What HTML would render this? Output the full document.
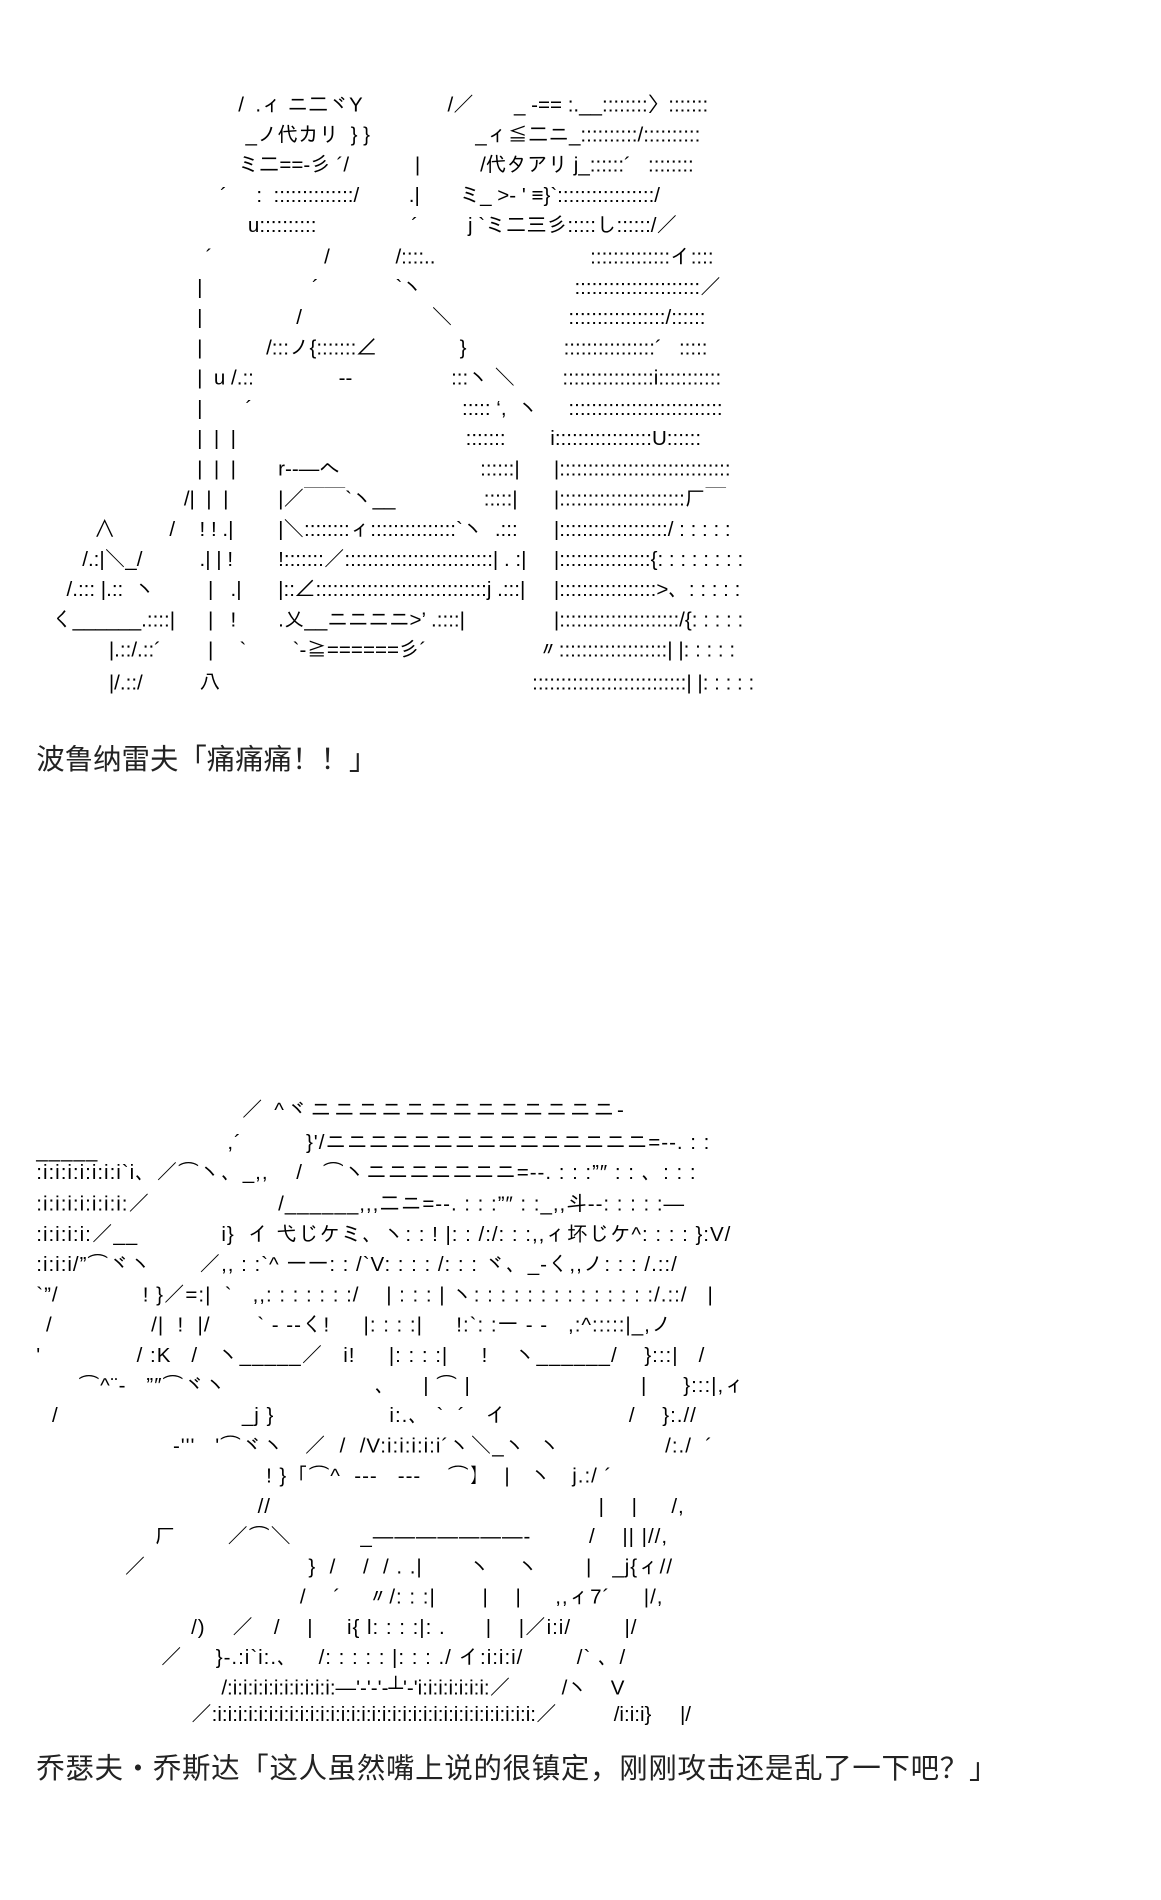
<!DOCTYPE html>
<html><head><meta charset="utf-8">
<style>
html,body{margin:0;padding:0;background:#fff;}
body{width:1161px;height:1899px;overflow:hidden;position:relative;}
#c{position:absolute;left:0;top:0;width:960px;height:1571px;transform:scale(1.209375);transform-origin:0 0;}
.t{position:absolute;white-space:pre;font-family:"Liberation Sans","IPAGothic","Noto Sans CJK JP",sans-serif;font-size:17px;line-height:24px;color:#000;}
.b .t{letter-spacing:0.8px;}
.b .t.z{letter-spacing:0;}
.cap{position:absolute;white-space:pre;font-family:"Liberation Sans","Noto Sans CJK SC",sans-serif;font-size:23.5px;line-height:28px;color:#222;}
</style></head><body><div id="c">
<!-- top art -->
<div class="t" style="left:197px;top:75px">/  .ィ ニ二ヾY</div>
<div class="t" style="left:370px;top:75px">/／</div>
<div class="t" style="left:425px;top:75px">_ -== :.__::::::::〉:::::::</div>
<div class="t" style="left:203px;top:100px">_ノ代カリ  } }</div>
<div class="t" style="left:393px;top:100px">_ィ≦二ニ_::::::::::/::::::::::</div>
<div class="t" style="left:197px;top:125px">ミ二==‐彡 ´/</div>
<div class="t" style="left:343px;top:125px">|</div>
<div class="t" style="left:397px;top:125px">/代タアリ j_::::::´   ::::::::</div>
<div class="t" style="left:182px;top:150px">´</div>
<div class="t" style="left:212px;top:150px">:  ::::::::::::::/</div>
<div class="t" style="left:338px;top:150px">.|</div>
<div class="t" style="left:380px;top:150px">ミ_ &gt;‐ ' ≡}`:::::::::::::::::/</div>
<div class="t" style="left:205px;top:175px">u::::::::::</div>
<div class="t" style="left:340px;top:175px">´</div>
<div class="t" style="left:387px;top:175px">j `ミ二三彡:::::し::::::/／</div>
<div class="t" style="left:170px;top:201px">´</div>
<div class="t" style="left:268px;top:201px">/</div>
<div class="t" style="left:327px;top:201px">/::::..</div>
<div class="t" style="left:488px;top:201px">::::::::::::::イ::::</div>
<div class="t" style="left:163px;top:226px">|</div>
<div class="t" style="left:258px;top:226px">´</div>
<div class="t" style="left:327px;top:226px">`ヽ</div>
<div class="t" style="left:475px;top:226px">::::::::::::::::::::::／</div>
<div class="t" style="left:163px;top:251px">|</div>
<div class="t" style="left:245px;top:251px">/</div>
<div class="t" style="left:357px;top:251px">＼</div>
<div class="t" style="left:470px;top:251px">:::::::::::::::::/::::::</div>
<div class="t" style="left:163px;top:276px">|</div>
<div class="t" style="left:220px;top:276px">/:::ノ{:::::::∠</div>
<div class="t" style="left:380px;top:276px">}</div>
<div class="t" style="left:466px;top:276px">::::::::::::::::´   :::::</div>
<div class="t" style="left:163px;top:301px">|  u /.::</div>
<div class="t" style="left:280px;top:301px">‐‐</div>
<div class="t" style="left:373px;top:301px">:::ヽ ＼</div>
<div class="t" style="left:465px;top:301px">::::::::::::::::i:::::::::::</div>
<div class="t" style="left:163px;top:326px">|</div>
<div class="t" style="left:203px;top:326px">´</div>
<div class="t" style="left:382px;top:326px">::::: ‘,  ヽ</div>
<div class="t" style="left:470px;top:326px">:::::::::::::::::::::::::::</div>
<div class="t" style="left:163px;top:351px">|  |  |</div>
<div class="t" style="left:385px;top:351px">:::::::</div>
<div class="t" style="left:455px;top:351px">i:::::::::::::::::U::::::</div>
<div class="t" style="left:163px;top:376px">|  |  |</div>
<div class="t" style="left:230px;top:376px">r‐‐―へ</div>
<div class="t" style="left:397px;top:376px">::::::|</div>
<div class="t" style="left:458px;top:376px">|::::::::::::::::::::::::::::::</div>
<div class="t" style="left:152px;top:401px">/|  |  |</div>
<div class="t" style="left:230px;top:401px">|／￣￣`ヽ__</div>
<div class="t" style="left:400px;top:401px">:::::|</div>
<div class="t" style="left:458px;top:401px">|::::::::::::::::::::::厂￣</div>
<div class="t" style="left:78px;top:426px">∧</div>
<div class="t" style="left:140px;top:426px">/</div>
<div class="t" style="left:165px;top:426px">! ! .|</div>
<div class="t" style="left:230px;top:426px">|＼::::::::ィ:::::::::::::::`ヽ  .:::</div>
<div class="t" style="left:458px;top:426px">|:::::::::::::::::::/ : : : : :</div>
<div class="t" style="left:68px;top:451px">/.:|＼_/</div>
<div class="t" style="left:165px;top:451px">.| | !</div>
<div class="t" style="left:230px;top:451px">!:::::::／::::::::::::::::::::::::::| . :|</div>
<div class="t" style="left:458px;top:451px">|::::::::::::::::{: : : : : : : :</div>
<div class="t" style="left:55px;top:476px">/.::: |.::  ヽ</div>
<div class="t" style="left:172px;top:476px">|   .|</div>
<div class="t" style="left:230px;top:476px">|::∠::::::::::::::::::::::::::::::j .:::|</div>
<div class="t" style="left:458px;top:476px">|:::::::::::::::::&gt;、: : : : :</div>
<div class="t" style="left:43px;top:501px">く______.::::|</div>
<div class="t" style="left:172px;top:501px">|   !</div>
<div class="t" style="left:230px;top:501px">.乂__ニニニニ&gt;’ .::::|</div>
<div class="t" style="left:458px;top:501px">|:::::::::::::::::::::/{: : : : :</div>
<div class="t" style="left:90px;top:526px">|.::/.::´</div>
<div class="t" style="left:172px;top:526px">|</div>
<div class="t" style="left:198px;top:526px">`</div>
<div class="t" style="left:242px;top:526px">`‐≧======彡´</div>
<div class="t" style="left:445px;top:526px">〃:::::::::::::::::::| |: : : : :</div>
<div class="t" style="left:90px;top:553px">|/.::/</div>
<div class="t" style="left:165px;top:553px">八</div>
<div class="t" style="left:440px;top:553px">:::::::::::::::::::::::::::| |: : : : :</div>
<div class="cap" style="left:30px;top:614px">波鲁纳雷夫「痛痛痛！！」</div>
<!-- bottom art -->
<div class="b">
<div class="t" style="left:200px;top:906px;letter-spacing:2.5px">／ ^ヾニニニニニニニニニニニニニ-</div>
<div class="t" style="left:30px;top:940px">_____</div>
<div class="t" style="left:188px;top:933px">,´</div>
<div class="t" style="left:253px;top:933px">}'/ニニニニニニニニニニニニニニニ=‐‐. : :</div>
<div class="t" style="left:30px;top:958px">:i:i:i:i:i:i:i`i、／⌒ヽ、_,,</div>
<div class="t" style="left:245px;top:958px">/   ⌒ヽニニニニニニニ=‐‐. : : :”″ : : 、: : :</div>
<div class="t" style="left:30px;top:984px">:i:i:i:i:i:i:i:／</div>
<div class="t" style="left:230px;top:984px">/______,,,二ニ=‐‐. : : :”″ : :_,,斗‐‐: : : : :—</div>
<div class="t" style="left:30px;top:1009px">:i:i:i:i:／__</div>
<div class="t" style="left:183px;top:1009px">i}  イ 弋じケミ、ヽ: : ! |: : /:/: : :,,ィ坏じケ^: : : : }:V/</div>
<div class="t" style="left:30px;top:1034px">:i:i:i/”⌒ヾヽ</div>
<div class="t" style="left:165px;top:1034px">／,, : :`^ 一一: : /`V: : : : /: : : ヾ、_‐く,,ノ: : : /.::/</div>
<div class="t" style="left:30px;top:1059px">`”/</div>
<div class="t" style="left:118px;top:1059px">! }／=:|  `   ,,: : : : : : :/    | : : : | ヽ: : : : : : : : : : : : : :/.::/   |</div>
<div class="t" style="left:38px;top:1084px">/</div>
<div class="t" style="left:125px;top:1084px">/|  !  |/       ` ‐ ‐‐く!     |: : : :|     !:`: :一 ‐ ‐   ,:^:::::|_,ノ</div>
<div class="t" style="left:30px;top:1109px">'</div>
<div class="t" style="left:113px;top:1109px">/ :K   /   ヽ_____／   i!     |: : : :|     !    ヽ______/    }:::|   /</div>
<div class="t" style="left:65px;top:1134px">⌒^¨‐   ”″⌒ヾヽ</div>
<div class="t" style="left:310px;top:1134px">、</div>
<div class="t" style="left:350px;top:1134px">| ⌒ |</div>
<div class="t" style="left:530px;top:1134px">|</div>
<div class="t" style="left:565px;top:1134px">}:::|,ィ</div>
<div class="t" style="left:43px;top:1159px">/</div>
<div class="t" style="left:200px;top:1159px">_j }</div>
<div class="t" style="left:322px;top:1159px">i:.、 `  ´   イ</div>
<div class="t" style="left:520px;top:1159px">/    }:.//</div>
<div class="t" style="left:143px;top:1184px">-'''</div>
<div class="t" style="left:178px;top:1184px">'⌒ヾヽ   ／  /  /V:i:i:i:i:i´ヽ＼_ヽ  ヽ</div>
<div class="t" style="left:550px;top:1184px">/:./  ´</div>
<div class="t" style="left:220px;top:1209px">! }「⌒^  ‐‐-   ‐‐‐    ⌒】  |   ヽ   j.:/ ´</div>
<div class="t" style="left:213px;top:1234px">//</div>
<div class="t" style="left:495px;top:1234px">|    |     /,</div>
<div class="t" style="left:128px;top:1259px">厂</div>
<div class="t" style="left:188px;top:1259px">／⌒＼</div>
<div class="t" style="left:298px;top:1259px">_―――――――-</div>
<div class="t" style="left:487px;top:1259px">/    || |//,</div>
<div class="t" style="left:103px;top:1284px">／</div>
<div class="t" style="left:255px;top:1284px">}  /    /  / . .|       ヽ    ヽ       |   _j{ィ//</div>
<div class="t" style="left:248px;top:1309px">/    ´    〃/: : :|       |    |     ,,ィ7´     |/,</div>
<div class="t" style="left:158px;top:1334px">/)    ／   /    |     i{ l: : : :|: .      |    |／i:i/        |/</div>
<div class="t" style="left:133px;top:1359px">／     }‐.:i`i:.、   /: : : : : |: : : ./ イ:i:i:i/        /` 、/</div>
<div class="t z" style="left:183px;top:1384px">/:i:i:i:i:i:i:i:i:i:i:—'‐'‐'‐┴'‐'i:i:i:i:i:i:i:／         /ヽ    V</div>
<div class="t z" style="left:158px;top:1406px">／:i:i:i:i:i:i:i:i:i:i:i:i:i:i:i:i:i:i:i:i:i:i:i:i:i:i:i:i:i:i:i:／          /i:i:i}     |/</div>
</div>
<div class="cap" style="left:30px;top:1448px;letter-spacing:0.6px">乔瑟夫・乔斯达「这人虽然嘴上说的很镇定，刚刚攻击还是乱了一下吧？」</div>
</div></body></html>
